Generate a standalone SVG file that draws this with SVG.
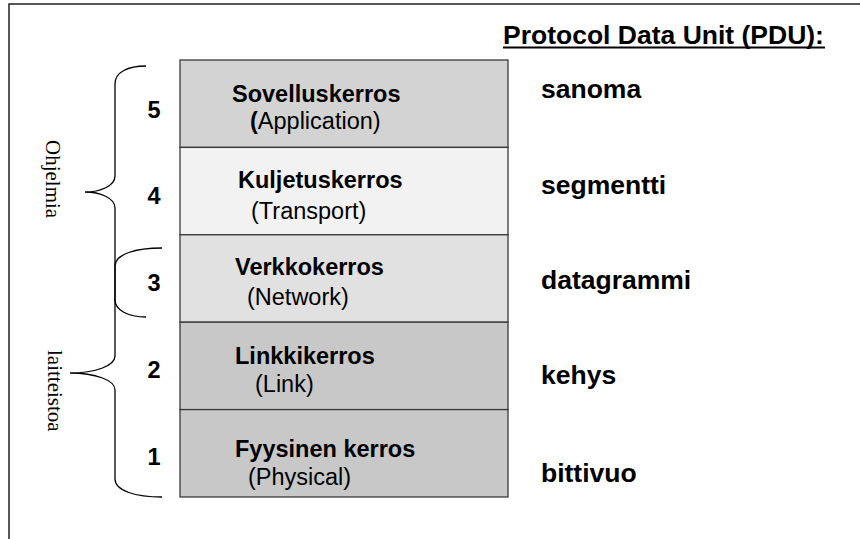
<svg xmlns="http://www.w3.org/2000/svg" width="860" height="539" viewBox="0 0 860 539">
<style>
.frame{fill:none;stroke:#222;stroke-width:1.5}
.layer{stroke:#3a3a3a;stroke-width:1.3}
.b{font-family:"Liberation Sans",Arial,sans-serif;font-weight:bold;font-size:23.5px;fill:#000}
.r{font-family:"Liberation Sans",Arial,sans-serif;font-size:23.5px;fill:#000}
.pdu{font-family:"Liberation Sans",Arial,sans-serif;font-weight:bold;font-size:26.5px;fill:#000}
.num{font-family:"Liberation Sans",Arial,sans-serif;font-weight:bold;font-size:23.5px;fill:#000;text-anchor:middle}
.vt{font-family:"Liberation Serif","Times New Roman",serif;font-size:21px;fill:#000}
.brace{fill:none;stroke:#000;stroke-width:1.3}
</style>
<rect x="0" y="0" width="860" height="539" fill="#fff"/>
<rect class="frame" x="9" y="4" width="900" height="600"/>
<g id="header">
<text class="pdu" x="503" y="44">Protocol Data Unit (PDU):</text>
<rect x="503" y="46.5" width="322" height="2" fill="#000"/>
</g>
<g id="layer5">
<rect class="layer" x="180" y="60" width="328" height="87.4" fill="#d3d3d3"/>
<text class="b" x="232" y="101.5">Sovelluskerros</text>
<text class="r" x="250" y="128.5"><tspan font-weight="bold">(</tspan>Application)</text>
<text class="num" x="154" y="118">5</text>
<text class="pdu" x="541" y="98">sanoma</text>
</g>
<g id="layer4">
<rect class="layer" x="180" y="147.4" width="328" height="87.4" fill="#f2f2f2"/>
<text class="b" x="238" y="187.5">Kuljetuskerros</text>
<text class="r" x="251" y="219">(Transport)</text>
<text class="num" x="154" y="204">4</text>
<text class="pdu" x="541" y="193.5">segmentti</text>
</g>
<g id="layer3">
<rect class="layer" x="180" y="234.8" width="328" height="87.4" fill="#e1e1e1"/>
<text class="b" x="235" y="275">Verkkokerros</text>
<text class="r" x="247" y="305">(Network)</text>
<text class="num" x="154" y="291">3</text>
<text class="pdu" x="541" y="289">datagrammi</text>
</g>
<g id="layer2">
<rect class="layer" x="180" y="322.2" width="328" height="87.4" fill="#c8c8c8"/>
<text class="b" x="235" y="363.5">Linkkikerros</text>
<text class="r" x="255" y="391.5">(Link)</text>
<text class="num" x="154" y="378">2</text>
<text class="pdu" x="541" y="384">kehys</text>
</g>
<g id="layer1">
<rect class="layer" x="180" y="409.6" width="328" height="87.4" fill="#c8c8c8"/>
<text class="b" x="235" y="457">Fyysinen kerros</text>
<text class="r" x="248" y="485">(Physical)</text>
<text class="num" x="154" y="465">1</text>
<text class="pdu" x="541" y="481.5">bittivuo</text>
</g>
<g id="connectors">
<path class="brace" d="M146,66 C128,66 115,72 115,84 L115,176 C115,186 100,192 85,192 C100,192 115,198 115,208 L115,300 C115,310 128,317 146,317"/>
<path class="brace" d="M162,248 C136,248 115,254 115,266 L115,356 C115,366 95,373 70,373 C95,373 115,380 115,390 L115,479 C115,491 136,497 162,497"/>
</g>
<g id="label-ohjelmia">
<text class="vt" transform="translate(46,140) rotate(90)">Ohjelmia</text>
</g>
<g id="label-laitteistoa">
<text class="vt" transform="translate(48,350) rotate(90)">laitteistoa</text>
</g>
</svg>
